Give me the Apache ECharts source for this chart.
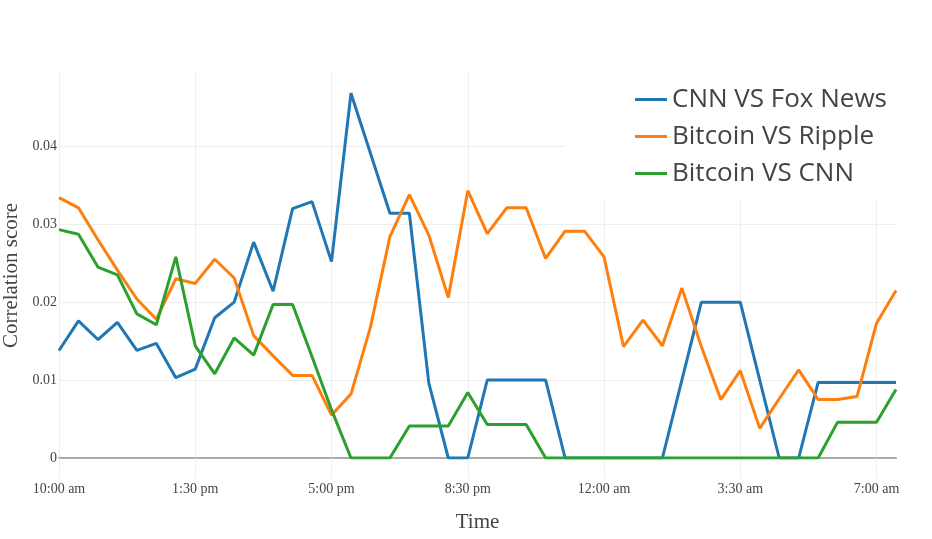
<!DOCTYPE html>
<html>
<head>
<meta charset="utf-8">
<script src="https://cdn.jsdelivr.net/npm/echarts@6/dist/echarts.min.js"></script>
<style>
  html, body { margin: 0; padding: 0; background: #fff; }
  #main { width: 932px; height: 539px; }
</style>
</head>
<body>
<div id="main"></div>
<script>
// half-hour samples, 10:00 am to 7:30 am next day
var times = [
  '10:00 am', '10:30 am', '11:00 am', '11:30 am', '12:00 pm', '12:30 pm', '1:00 pm', '1:30 pm',
  '2:00 pm', '2:30 pm', '3:00 pm', '3:30 pm', '4:00 pm', '4:30 pm', '5:00 pm', '5:30 pm',
  '6:00 pm', '6:30 pm', '7:00 pm', '7:30 pm', '8:00 pm', '8:30 pm', '9:00 pm', '9:30 pm',
  '10:00 pm', '10:30 pm', '11:00 pm', '11:30 pm', '12:00 am', '12:30 am', '1:00 am', '1:30 am',
  '2:00 am', '2:30 am', '3:00 am', '3:30 am', '4:00 am', '4:30 am', '5:00 am', '5:30 am',
  '6:00 am', '6:30 am', '7:00 am', '7:30 am'
];

var cnnFox = [
  0.0138, 0.0176, 0.0152, 0.0174, 0.0138, 0.0147, 0.0103, 0.0114, 0.0180, 0.0200,
  0.0277, 0.0214, 0.0320, 0.0329, 0.0252, 0.0468, 0.0391, 0.0314, 0.0314, 0.0096,
  0, 0, 0.0100, 0.0100, 0.0100, 0.0100, 0, 0, 0, 0,
  0, 0, 0.0100, 0.0200, 0.0200, 0.0200, 0.0100, 0, 0, 0.0097,
  0.0097, 0.0097, 0.0097, 0.0097
];

var btcRipple = [
  0.0334, 0.0321, 0.0280, 0.0241, 0.0204, 0.0178, 0.0230, 0.0224, 0.0255, 0.0231,
  0.0157, 0.0131, 0.0106, 0.0106, 0.0055, 0.0082, 0.0168, 0.0284, 0.0338, 0.0286,
  0.0206, 0.0343, 0.0288, 0.0321, 0.0321, 0.0256, 0.0291, 0.0291, 0.0258, 0.0143,
  0.0177, 0.0144, 0.0218, 0.0143, 0.0075, 0.0112, 0.0038, 0.0076, 0.0113, 0.0075,
  0.0075, 0.0079, 0.0173, 0.0215
];

var btcCnn = [
  0.0293, 0.0287, 0.0245, 0.0235, 0.0185, 0.0171, 0.0258, 0.0144, 0.0108, 0.0154,
  0.0132, 0.0197, 0.0197, 0.0130, 0.0062, 0, 0, 0, 0.0041, 0.0041,
  0.0041, 0.0084, 0.0043, 0.0043, 0.0043, 0, 0, 0, 0, 0,
  0, 0, 0, 0, 0, 0, 0, 0, 0, 0,
  0.0046, 0.0046, 0.0046, 0.0088
];

var serif = '"Liberation Serif", "Times New Roman", serif';

function line(name, data, color) {
  return {
    name: name,
    type: 'line',
    data: data,
    symbol: 'none',
    lineStyle: { width: 3, color: color },
    itemStyle: { color: color }
  };
}

var myChart = echarts.init(document.getElementById('main'));
myChart.setOption({
  animation: false,
  backgroundColor: '#fff',
  grid: { left: 59, right: 36, top: 73, bottom: 81, outerBoundsMode: 'none', containLabel: false },
  legend: {
    orient: 'vertical',
    left: 565,
    top: 63,
    padding: [18, 60, 8, 70],
    backgroundColor: '#fff',
    icon: 'rect',
    itemWidth: 32,
    itemHeight: 3,
    itemGap: 0,
    textStyle: { fontFamily: 'Open Sans', fontSize: 26, color: '#444', lineHeight: 37 }
  },
  xAxis: {
    type: 'category',
    data: times,
    boundaryGap: false,
    name: 'Time',
    nameLocation: 'middle',
    nameGap: 54,
    nameTextStyle: { fontFamily: serif, fontSize: 21, color: '#444' },
    axisLine: { lineStyle: { color: '#aaa', width: 2 } },
    // light ticks continue the vertical grid below the zero line
    axisTick: { interval: 6, length: 20, lineStyle: { color: '#eee', width: 1 } },
    axisLabel: { interval: 6, margin: 24, fontFamily: serif, fontSize: 14, color: '#444' },
    splitLine: { show: true, interval: 6, lineStyle: { color: '#eee', width: 1 } }
  },
  yAxis: {
    type: 'value',
    min: 0,
    max: 0.0494,
    interval: 0.01,
    name: 'Correlation score',
    nameLocation: 'middle',
    nameGap: 34,
    nameTextStyle: { fontFamily: serif, fontSize: 21, color: '#444', padding: [0, 20, 0, 0] },
    axisLine: { show: false },
    axisTick: { show: false },
    axisLabel: {
      margin: 2, fontFamily: serif, fontSize: 14, color: '#444', showMaxLabel: false,
      formatter: function (v) { return v === 0 ? '0' : v.toFixed(2); }
    },
    splitLine: { show: true, showMaxLine: false, lineStyle: { color: '#eee', width: 1 } }
  },
  series: [
    line('CNN VS Fox News', cnnFox, '#1f77b4'),
    line('Bitcoin VS Ripple', btcRipple, '#ff7f0e'),
    line('Bitcoin VS CNN', btcCnn, '#2ca02c')
  ]
});
</script>
</body>
</html>
